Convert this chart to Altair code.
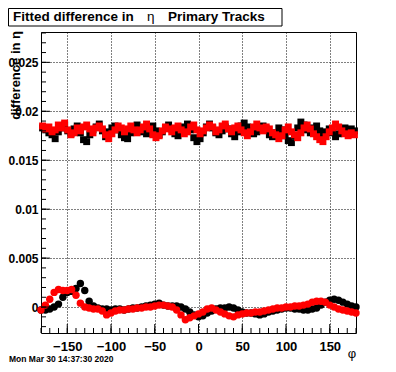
import altair as alt
import pandas as pd

# ---------------- data ----------------
phi_upper = [round(-178.2 + 3.6 * i, 1) for i in range(100)]
black_upper = [
    0.0183, 0.0181, 0.0178, 0.0176, 0.0172, 0.0179, 0.0183, 0.0186, 0.0180, 0.0177,
    0.0182, 0.0185, 0.0178, 0.0171, 0.0169, 0.0176, 0.0181, 0.0184, 0.0187, 0.0180,
    0.0174, 0.0179, 0.0183, 0.0185, 0.0181, 0.0176, 0.0173, 0.0172, 0.0178, 0.0184,
    0.0186, 0.0183, 0.0179, 0.0177, 0.0182, 0.0185, 0.0180, 0.0176, 0.0179, 0.0183,
    0.0186, 0.0182, 0.0177, 0.0175, 0.0180, 0.0184, 0.0187, 0.0181, 0.0173, 0.0169,
    0.0172, 0.0178, 0.0184, 0.0187, 0.0183, 0.0178, 0.0176, 0.0180, 0.0184, 0.0182,
    0.0177, 0.0174, 0.0179, 0.0185, 0.0188, 0.0184, 0.0180, 0.0177, 0.0179, 0.0183,
    0.0185, 0.0182, 0.0176, 0.0174, 0.0178, 0.0183, 0.0181, 0.0175, 0.0170, 0.0168,
    0.0175, 0.0183, 0.0189, 0.0186, 0.0181, 0.0178, 0.0183, 0.0185, 0.0180, 0.0176,
    0.0179, 0.0182, 0.0178, 0.0174, 0.0177, 0.0181, 0.0183, 0.0179, 0.0182, 0.0180,
]
red_upper = [
    0.0185, 0.0182, 0.0184, 0.0179, 0.0181, 0.0186, 0.0183, 0.0188, 0.0181, 0.0176,
    0.0178, 0.0183, 0.0180, 0.0184, 0.0186, 0.0182, 0.0178, 0.0183, 0.0185, 0.0182,
    0.0176, 0.0172, 0.0177, 0.0181, 0.0185, 0.0183, 0.0179, 0.0182, 0.0185, 0.0181,
    0.0178, 0.0181, 0.0184, 0.0187, 0.0182, 0.0176, 0.0173, 0.0175, 0.0180, 0.0184,
    0.0182, 0.0179, 0.0183, 0.0185, 0.0181, 0.0177, 0.0179, 0.0184, 0.0186, 0.0181,
    0.0177, 0.0180, 0.0183, 0.0186, 0.0184, 0.0179, 0.0181, 0.0185, 0.0187, 0.0182,
    0.0179, 0.0183, 0.0185, 0.0181, 0.0178, 0.0175, 0.0179, 0.0184, 0.0187, 0.0183,
    0.0180, 0.0184, 0.0182, 0.0178, 0.0176, 0.0172, 0.0175, 0.0181, 0.0184, 0.0179,
    0.0176, 0.0173, 0.0178, 0.0183, 0.0186, 0.0182, 0.0177, 0.0174, 0.0171, 0.0169,
    0.0174, 0.0179, 0.0183, 0.0187, 0.0184, 0.0180, 0.0177, 0.0175, 0.0178, 0.0176,
]

phi_lower = list(range(-180, 181, 5))
black_lower = [
    -0.0003, -0.0003, -0.0002, 0.0000, 0.0003, 0.0010, 0.0015, 0.0016, 0.0019, 0.0024,
    0.0017, 0.0006, 0.0001, -0.0001, -0.0002, -0.0002, -0.0003, -0.0002, -0.0002, -0.0003,
    -0.0002, -0.0001, -0.0001, 0.0000, 0.0001, 0.0002, 0.0003, 0.0004, 0.0002, 0.0001,
    0.0001, 0.0001, 0.0000, -0.0002, -0.0005, -0.0008, -0.0010, -0.0009, -0.0006, -0.0004,
    -0.0002, -0.0001, -0.0001, 0.0000, -0.0001, -0.0003, -0.0005, -0.0006, -0.0006, -0.0007,
    -0.0008, -0.0007, -0.0005, -0.0004, -0.0003, -0.0002, -0.0001, -0.0001, -0.0002, -0.0002,
    -0.0003, -0.0003, -0.0002, -0.0001, 0.0002, 0.0005, 0.0007, 0.0008, 0.0007, 0.0005,
    0.0003, 0.0001, 0.0000,
]
red_lower = [
    -0.0003, 0.0002, 0.0008, 0.0015, 0.0018, 0.0017, 0.0017, 0.0018, 0.0012, 0.0004,
    0.0000, -0.0001, -0.0002, -0.0002, -0.0004, -0.0008, -0.0006, -0.0004, -0.0003, -0.0003,
    -0.0002, -0.0002, -0.0001, -0.0001, 0.0000, 0.0000, 0.0001, 0.0002, 0.0002, 0.0001,
    0.0000, -0.0003, -0.0008, -0.0013, -0.0011, -0.0009, -0.0007, -0.0005, -0.0002, -0.0001,
    -0.0003, -0.0005, -0.0007, -0.0009, -0.0010, -0.0008, -0.0007, -0.0006, -0.0006, -0.0005,
    -0.0005, -0.0004, -0.0003, -0.0002, -0.0001, -0.0001, 0.0000, 0.0000, 0.0001, 0.0001,
    0.0002, 0.0003, 0.0005, 0.0006, 0.0006, 0.0005, 0.0002, 0.0000, -0.0002, -0.0003,
    -0.0004, -0.0005, -0.0006,
]

x_major = [-150, -100, -50, 0, 50, 100, 150]
x_minor = list(range(-180, 181, 10))
y_major = [0.0, 0.005, 0.01, 0.015, 0.02, 0.025]
y_minor = [round(-0.002 + 0.001 * k, 3) for k in range(31)]

title_parts = ["Fitted difference in", "\u03b7", "Primary Tracks"]
y_title = "difference in  \u03b7"
x_title = "\u03c6"
date_text = "Mon Mar 30 14:37:30 2020"

# ---------------- chart ----------------
W, H = 315, 301
FONT = "Liberation Sans"
xs = alt.Scale(domain=[-180, 180], nice=False, zero=False)
ys = alt.Scale(domain=[-0.00265, 0.0281], nice=False, zero=False)

upper = pd.DataFrame({
    "phi": phi_upper * 2,
    "v": black_upper + red_upper,
    "s": ["black"] * len(phi_upper) + ["red"] * len(phi_upper),
})
upper["o"] = [0 if s == "black" else 1 for s in upper["s"]]
lower = pd.DataFrame({
    "phi": phi_lower * 2,
    "v": black_lower + red_lower,
    "s": ["black"] * len(phi_lower) + ["red"] * len(phi_lower),
})
lower["o"] = [0 if s == "black" else 1 for s in lower["s"]]

color = alt.Color("s:N", scale=alt.Scale(domain=["black", "red"], range=["#000000", "#ff0000"]), legend=None)

xaxis = alt.Axis(values=x_major, format="d", grid=True, gridDash=[1, 2], gridColor="black",
                 gridOpacity=1, gridWidth=1, tickSize=0, domain=False, labelFont=FONT,
                 labelFontSize=13, labelFontWeight="bold", labelColor="black", labelPadding=7,
                 title=None)
yaxis = alt.Axis(values=y_major, format="~g", grid=True, gridDash=[1, 2], gridColor="black",
                 gridOpacity=1, gridWidth=1, tickSize=0, domain=False, labelFont=FONT,
                 labelFontSize=12, labelFontWeight="bold", labelColor="black", labelPadding=3,
                 title=None)

X = lambda f: alt.X(f, scale=xs, axis=xaxis)
Y = lambda f: alt.Y(f, scale=ys, axis=yaxis)

sq = alt.Chart(upper).mark_square(size=48, opacity=1, filled=True).encode(
    x=X("phi:Q"), y=Y("v:Q"), color=color, order="o:Q",
)
circ = alt.Chart(lower).mark_circle(size=55, opacity=1).encode(
    x=X("phi:Q"), y=Y("v:Q"), color=color, order="o:Q",
)

ytm = alt.Chart(pd.DataFrame({"t": y_major})).mark_rule(color="black").encode(
    y=Y("t:Q"), x=alt.value(0), x2=alt.value(9))
ytn = alt.Chart(pd.DataFrame({"t": y_minor})).mark_rule(color="black").encode(
    y=Y("t:Q"), x=alt.value(0), x2=alt.value(5))
xtm = alt.Chart(pd.DataFrame({"t": x_major})).mark_rule(color="black").encode(
    x=X("t:Q"), y=alt.value(H), y2=alt.value(H - 9))
xtn = alt.Chart(pd.DataFrame({"t": x_minor})).mark_rule(color="black").encode(
    x=X("t:Q"), y=alt.value(H), y2=alt.value(H - 5))

one = pd.DataFrame({"a": [0]})
box = alt.Chart(one).mark_rect(fill="white", stroke="black", strokeWidth=1).encode(
    x=alt.value(-32.5), x2=alt.value(241), y=alt.value(-23.5), y2=alt.value(-6))
t1 = alt.Chart(one).mark_text(text=title_parts[0], font=FONT, fontSize=13.5, fontWeight="bold",
                              align="left", baseline="middle", color="black").encode(
    x=alt.value(-28), y=alt.value(-15))
t2 = alt.Chart(one).mark_text(text=title_parts[1], font=FONT, fontSize=13.5,
                              align="left", baseline="middle", color="black").encode(
    x=alt.value(106), y=alt.value(-15))
t3 = alt.Chart(one).mark_text(text=title_parts[2], font=FONT, fontSize=13.5, fontWeight="bold",
                              align="left", baseline="middle", color="black").encode(
    x=alt.value(127), y=alt.value(-15))
yt = alt.Chart(one).mark_text(text=y_title, font=FONT, fontSize=13, fontWeight="bold", angle=270,
                              align="right", baseline="middle", color="black").encode(
    x=alt.value(-25.5), y=alt.value(-1))
xt = alt.Chart(one).mark_text(text=x_title, font=FONT, fontSize=13,
                              align="center", baseline="alphabetic", color="black").encode(
    x=alt.value(311), y=alt.value(326))
dt = alt.Chart(one).mark_text(text=date_text, font=FONT, fontSize=8.5, fontWeight="bold",
                              align="left", baseline="alphabetic", color="black").encode(
    x=alt.value(-32), y=alt.value(330))

chart = alt.layer(sq, circ, ytm, ytn, xtm, xtn, box, t1, t2, t3, yt, xt, dt).properties(
    width=W, height=H,
    autosize=alt.AutoSizeParams(type="none"),
    padding={"left": 33, "top": 24, "right": 30, "bottom": 31},
    background="white",
).configure_view(stroke="black", strokeWidth=1)

chart.save("out.html", embed_options={"renderer": "svg", "actions": False})
